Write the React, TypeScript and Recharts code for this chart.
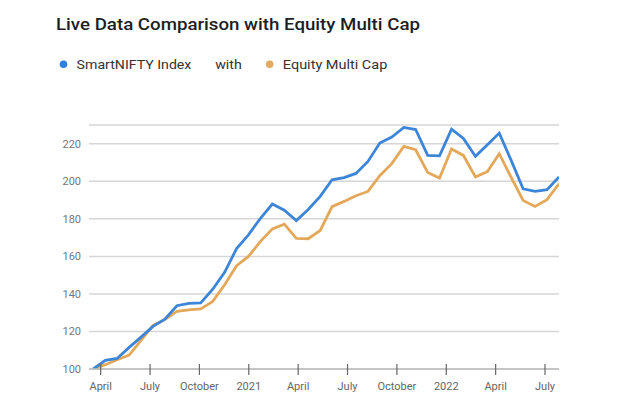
import React from 'react';
import { LineChart, Line, XAxis, YAxis, CartesianGrid } from 'recharts';

// x position of each observation, in months after April 2020
const monthPos = [
  -0.45, 0.28, 1.0, 1.73, 2.45, 3.18, 3.9, 4.63, 5.36, 6.08,
  6.81, 7.53, 8.26, 8.98, 9.71, 10.43, 11.16, 11.89, 12.61, 13.34,
  14.06, 14.79, 15.51, 16.24, 16.96, 17.69, 18.42, 19.14, 19.87, 20.59,
  21.32, 22.04, 22.77, 23.5, 24.22, 24.95, 25.67, 26.4, 27.12, 27.85,
];

const smartNifty = [
  100, 104.6, 105.6, 111.5, 117, 122.7, 126.6, 133.7, 135, 135.2,
  142.5, 151.5, 164.2, 171.5, 180.3, 187.9, 184.6, 179.1, 185, 192,
  200.8, 202, 204.2, 210.6, 220.4, 223.6, 228.7, 227.6, 213.8, 213.6,
  227.8, 222.8, 213.3, 219.5, 225.7, 211, 196, 194.6, 195.5, 202.3,
];

const equityMultiCap = [
  100, 102.3, 104.9, 107.4, 115.3, 123.2, 126.3, 130.7, 131.5, 132,
  136, 144.9, 155, 160, 168, 174.6, 177.2, 169.6, 169.4, 173.8,
  186.5, 189.3, 192.3, 194.6, 203, 209.4, 218.6, 216.8, 204.7, 201.7,
  217.2, 213.8, 202.3, 205.2, 214.7, 202, 189.8, 186.6, 190.2, 198.7,
];

const xTicks = [0, 3, 6, 9, 12, 15, 18, 21, 24, 27];
const xTickLabels = ['April', 'July', 'October', '2021', 'April', 'July', 'October', '2022', 'April', 'July'];
const yTicks = [100, 120, 140, 160, 180, 200, 220];

const data = monthPos.map((m, i) => ({ m, smart: smartNifty[i], equity: equityMultiCap[i] }));

const BLUE = '#3d85d8';
const ORANGE = '#e3a85a';
const FONT = 'Roboto, "Noto Sans", sans-serif';

const XTick = (props: any) => {
  const { x, y, payload } = props;
  const idx = xTicks.indexOf(payload.value);
  return (
    <g>
      <line x1={x} x2={x} y1={y - 5} y2={y + 6} stroke="#666" strokeWidth={1.2} />
      <text x={x} y={y + 21} textAnchor="middle" fontSize={11} fill="#666" fontFamily={FONT}>
        {idx >= 0 ? xTickLabels[idx] : ''}
      </text>
    </g>
  );
};

export default function App() {
  return (
    <div style={{ position: 'absolute', left: 0, top: 0, width: 640, height: 415, background: '#fff' }}>
      <LineChart
        width={640}
        height={415}
        data={data}
        margin={{ top: 125, right: 81, bottom: 0, left: 0 }}
      >
        <CartesianGrid horizontal vertical={false} stroke="#d6d6d6" strokeWidth={1.5} />
        <XAxis
          dataKey="m"
          type="number"
          domain={[-0.71, 27.85]}
          ticks={xTicks}
          allowDataOverflow
          height={46}
          tickSize={0}
          tickMargin={0}
          tickLine={false}
          axisLine={{ stroke: '#bdbdbd', strokeWidth: 1.5 }}
          tick={<XTick />}
          interval={0}
        />
        <YAxis
          type="number"
          domain={[100, 230]}
          ticks={yTicks}
          allowDataOverflow
          width={89}
          axisLine={false}
          tickLine={false}
          tick={{ fontSize: 11, fill: '#777', fontFamily: FONT }}
          interval={0}
        />
        <Line type="linear" dataKey="equity" stroke={ORANGE} strokeWidth={2.8} dot={false} isAnimationActive={false} />
        <Line type="linear" dataKey="smart" stroke={BLUE} strokeWidth={2.8} dot={false} isAnimationActive={false} />
      </LineChart>
      <svg
        width={640}
        height={90}
        style={{ position: 'absolute', left: 0, top: 0, pointerEvents: 'none' }}
      >
        <text x={56} y={30} fontSize={17} fontWeight={500} fill="#1e1e1e" fontFamily={FONT} textLength={364} lengthAdjust="spacingAndGlyphs">
          Live Data Comparison with Equity Multi Cap
        </text>
        <circle cx={63.5} cy={64.3} r={3.8} fill="#2f7fe0" />
        <text x={76.6} y={68.8} fontSize={13.5} fill="#333" fontFamily={FONT} textLength={114.8} lengthAdjust="spacingAndGlyphs">
          SmartNIFTY Index
        </text>
        <text x={215.2} y={68.8} fontSize={13.5} fill="#333" fontFamily={FONT} textLength={26.6} lengthAdjust="spacingAndGlyphs">
          with
        </text>
        <circle cx={269.7} cy={64.3} r={3.8} fill="#e1aa60" />
        <text x={282.8} y={68.8} fontSize={13.5} fill="#333" fontFamily={FONT} textLength={104.5} lengthAdjust="spacingAndGlyphs">
          Equity Multi Cap
        </text>
      </svg>
    </div>
  );
}
